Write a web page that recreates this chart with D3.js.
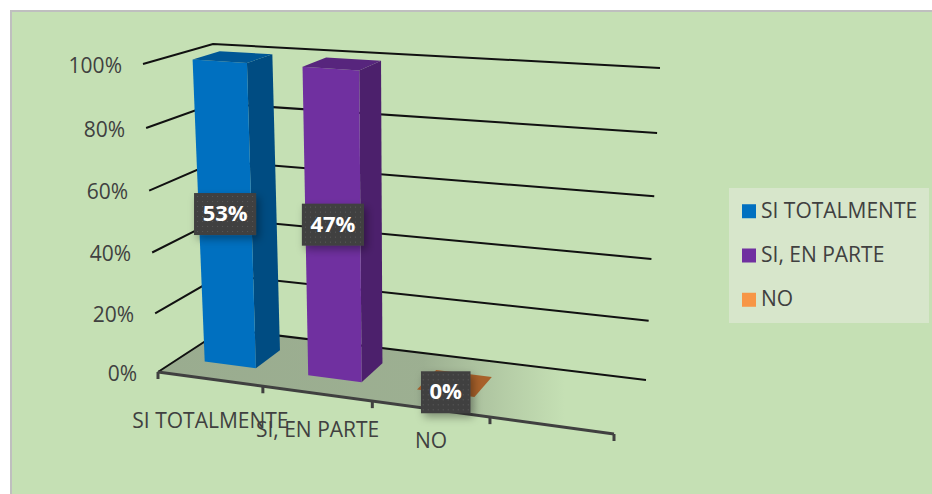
<!DOCTYPE html>
<html>
<head>
<meta charset="utf-8">
<script src="https://cdn.jsdelivr.net/npm/d3@7"></script>
<style>
  html, body { margin: 0; padding: 0; background: #fff; overflow: hidden; }
  text { font-family: "Open Sans", sans-serif; fill: #404040; }
</style>
</head>
<body>
<div id="chart"></div>
<script>
// Chart data
const categories = ['SI TOTALMENTE', 'SI, EN PARTE', 'NO']
const values = [53, 47, 0]
const colors = ['#0070c0', '#7030a0', '#f79646']
const percentTicks = [0, 20, 40, 60, 80, 100]

const width = 932
const height = 494

const svg = d3.select('#chart')
  .append('svg')
  .attr('width', width)
  .attr('height', height)

// Each column is a 100% stack of its own single value
const stackShare = d3.scaleThreshold().domain([1]).range([0, 100])

// Perspective box of the 3D plot: [floor, top] screen corners
const box = {
  frontLeft: [[158, 372], [143, 64]],
  backLeft: [[224, 329], [213, 44]],
  backRight: [[646, 380], [660, 68]],
  frontRight: [[614, 434], [628, 99]]
}

// Value axis, slightly compressed by perspective
const heightScale = d3.scaleLinear()
  .domain(percentTicks)
  .range([0, 0.19, 0.388, 0.589, 0.792, 1])

// Category slots along the front edge, the fourth one stays empty
const slotScale = d3.scaleLinear()
  .domain([0, 1, 2, 3, 4])
  .range([0, 0.23, 0.47, 0.728, 1])

const depthFront = 0.32
const depthBack = 0.72

const mix = (a, b, t) => d3.interpolateNumber(a, b)(t)
const project = (u, d, pct) => {
  const t = heightScale(pct)
  return [0, 1].map(i => {
    const floor = mix(
      mix(box.frontLeft[0][i], box.frontRight[0][i], u),
      mix(box.backLeft[0][i], box.backRight[0][i], u), d)
    const top = mix(
      mix(box.frontLeft[1][i], box.frontRight[1][i], u),
      mix(box.backLeft[1][i], box.backRight[1][i], u), d)
    return mix(floor, top, t)
  })
}
const line = d3.line()

// Defs
const defs = svg.append('defs')
const floorFade = defs.append('linearGradient')
  .attr('id', 'floorFade')
  .attr('gradientUnits', 'userSpaceOnUse')
  .attr('x1', 160).attr('x2', 565).attr('y1', 0).attr('y2', 0)
floorFade.append('stop').attr('offset', '0%').attr('stop-color', '#8f9f86').attr('stop-opacity', 0.8)
floorFade.append('stop').attr('offset', '65%').attr('stop-color', '#8f9f86').attr('stop-opacity', 0.75)
floorFade.append('stop').attr('offset', '85%').attr('stop-color', '#8f9f86').attr('stop-opacity', 0.3)
floorFade.append('stop').attr('offset', '100%').attr('stop-color', '#8f9f86').attr('stop-opacity', 0)

const dots = defs.append('pattern')
  .attr('id', 'dots')
  .attr('patternUnits', 'userSpaceOnUse')
  .attr('width', 5).attr('height', 5)
dots.append('rect').attr('width', 5).attr('height', 5).attr('fill', '#404040')
dots.append('rect').attr('x', 2).attr('y', 2).attr('width', 1).attr('height', 1).attr('fill', '#5c5c5c')

const labelShadow = defs.append('filter')
  .attr('id', 'labelShadow')
  .attr('x', '-30%').attr('y', '-30%').attr('width', '170%').attr('height', '170%')
labelShadow.append('feDropShadow')
  .attr('dx', 3).attr('dy', 4).attr('stdDeviation', 4)
  .attr('flood-color', '#000').attr('flood-opacity', 0.35)

// Background
svg.append('rect')
  .attr('x', 11).attr('y', 11)
  .attr('width', width - 11).attr('height', height - 11)
  .attr('fill', '#c5e0b4')
svg.append('path')
  .attr('d', `M11,${height}V11H${width}`)
  .attr('fill', 'none')
  .attr('stroke', '#bfbfbf')
  .attr('stroke-width', 2)

// Floor
svg.append('path')
  .attr('d', line([[0, 0], [0, 1], [1, 1], [1, 0]].map(c => project(c[0], c[1], 0))) + 'Z')
  .attr('fill', 'url(#floorFade)')

// Gridlines on the two walls
svg.append('g').selectAll('path')
  .data(percentTicks)
  .enter().append('path')
  .attr('d', d => line([project(0, 0, d), project(0, 1, d), project(1, 1, d)]))
  .attr('fill', 'none')
  .attr('stroke', '#111')
  .attr('stroke-width', 2)

// Value axis labels
svg.append('g').selectAll('text')
  .data(percentTicks)
  .enter().append('text')
  .attr('x', d => project(0, 0, d)[0] - 21)
  .attr('y', d => project(0, 0, d)[1] + 3)
  .attr('text-anchor', 'end')
  .attr('dominant-baseline', 'middle')
  .attr('font-size', 21)
  .text(d => `${d}%`)

// Category axis
svg.append('path')
  .attr('d', line([project(0, 0, 0), project(1, 0, 0)]))
  .attr('stroke', '#404040')
  .attr('stroke-width', 3)
svg.append('g').selectAll('path')
  .data(slotScale.domain())
  .enter().append('path')
  .attr('d', d => {
    const p = project(slotScale(d), 0, 0)
    return line([p, [p[0], p[1] + 7]])
  })
  .attr('stroke', '#404040')
  .attr('stroke-width', 3)

// Category labels sit closer to the axis the further right they are
const labelDrop = d3.scaleLinear().domain([0, 2]).range([43, 33])
svg.append('g').selectAll('text')
  .data(categories)
  .enter().append('text')
  .attr('x', (d, i) => project(slotScale(i + 0.5), 0, 0)[0])
  .attr('y', (d, i) => project(slotScale(i + 0.5), 0, 0)[1] + labelDrop(i))
  .attr('text-anchor', 'middle')
  .attr('dominant-baseline', 'middle')
  .attr('font-size', 21)
  .text(d => d)

// Columns
const columns = svg.append('g').selectAll('g')
  .data(values)
  .enter().append('g')

const face = (i, points) => line(points.map(p => project(slotScale(i + p[0]), p[1], p[2]))) + 'Z'
const shade = (i, k) => d3.color(colors[i]).darker(k)

columns.append('path') // right side
  .attr('d', (d, i) => {
    const h = stackShare(d)
    return face(i, [[0.75, depthFront, 0], [0.75, depthBack, 0], [0.75, depthBack, h], [0.75, depthFront, h]])
  })
  .attr('fill', (d, i) => shade(i, 1.1))
columns.append('path') // front
  .attr('d', (d, i) => {
    const h = stackShare(d)
    return face(i, [[0.25, depthFront, 0], [0.75, depthFront, 0], [0.75, depthFront, h], [0.25, depthFront, h]])
  })
  .attr('fill', (d, i) => colors[i])
columns.append('path') // top
  .attr('d', (d, i) => {
    const h = stackShare(d)
    return face(i, [[0.25, depthFront, h], [0.75, depthFront, h], [0.75, depthBack, h], [0.25, depthBack, h]])
  })
  .attr('fill', (d, i) => stackShare(d) > 0 ? shade(i, 0.7) : '#a8612a')

// Data labels
const labels = svg.append('g').selectAll('g')
  .data(values)
  .enter().append('g')
  .attr('transform', (d, i) => {
    const p = project(slotScale(i + 0.5), depthFront, stackShare(d) * 0.505)
    return `translate(${p[0]},${p[1] - 1})`
  })
const boxes = labels.append('rect')
  .attr('fill', 'url(#dots)')
  .attr('filter', 'url(#labelShadow)')
const labelText = labels.append('text')
  .attr('text-anchor', 'middle')
  .attr('dominant-baseline', 'middle')
  .attr('y', 1)
  .attr('font-size', 22)
  .attr('font-weight', 700)
  .style('fill', '#fff')
  .text(d => `${d}%`)
labelText.each(function (d, i) {
  const w = this.getBBox().width + 17
  d3.select(boxes.nodes()[i])
    .attr('x', -w / 2).attr('y', -21)
    .attr('width', w).attr('height', 42)
})

// Legend
const legend = svg.append('g').attr('id', 'legend')
legend.append('rect')
  .attr('x', 729).attr('y', 188)
  .attr('width', 200).attr('height', 135)
  .attr('fill', '#d7e6cb')
const legendRow = d3.scaleBand()
  .domain(categories)
  .range([188, 323])
  .padding(0.05)
const rows = legend.selectAll('g')
  .data(categories)
  .enter().append('g')
  .attr('transform', d => `translate(0,${legendRow(d) + legendRow.bandwidth() / 2})`)
rows.append('rect')
  .attr('x', 742).attr('y', -7)
  .attr('width', 14).attr('height', 14)
  .attr('fill', (d, i) => colors[i])
rows.append('text')
  .attr('x', 761).attr('y', 1)
  .attr('dominant-baseline', 'middle')
  .attr('font-size', 21)
  .text(d => d)
</script>
</body>
</html>
